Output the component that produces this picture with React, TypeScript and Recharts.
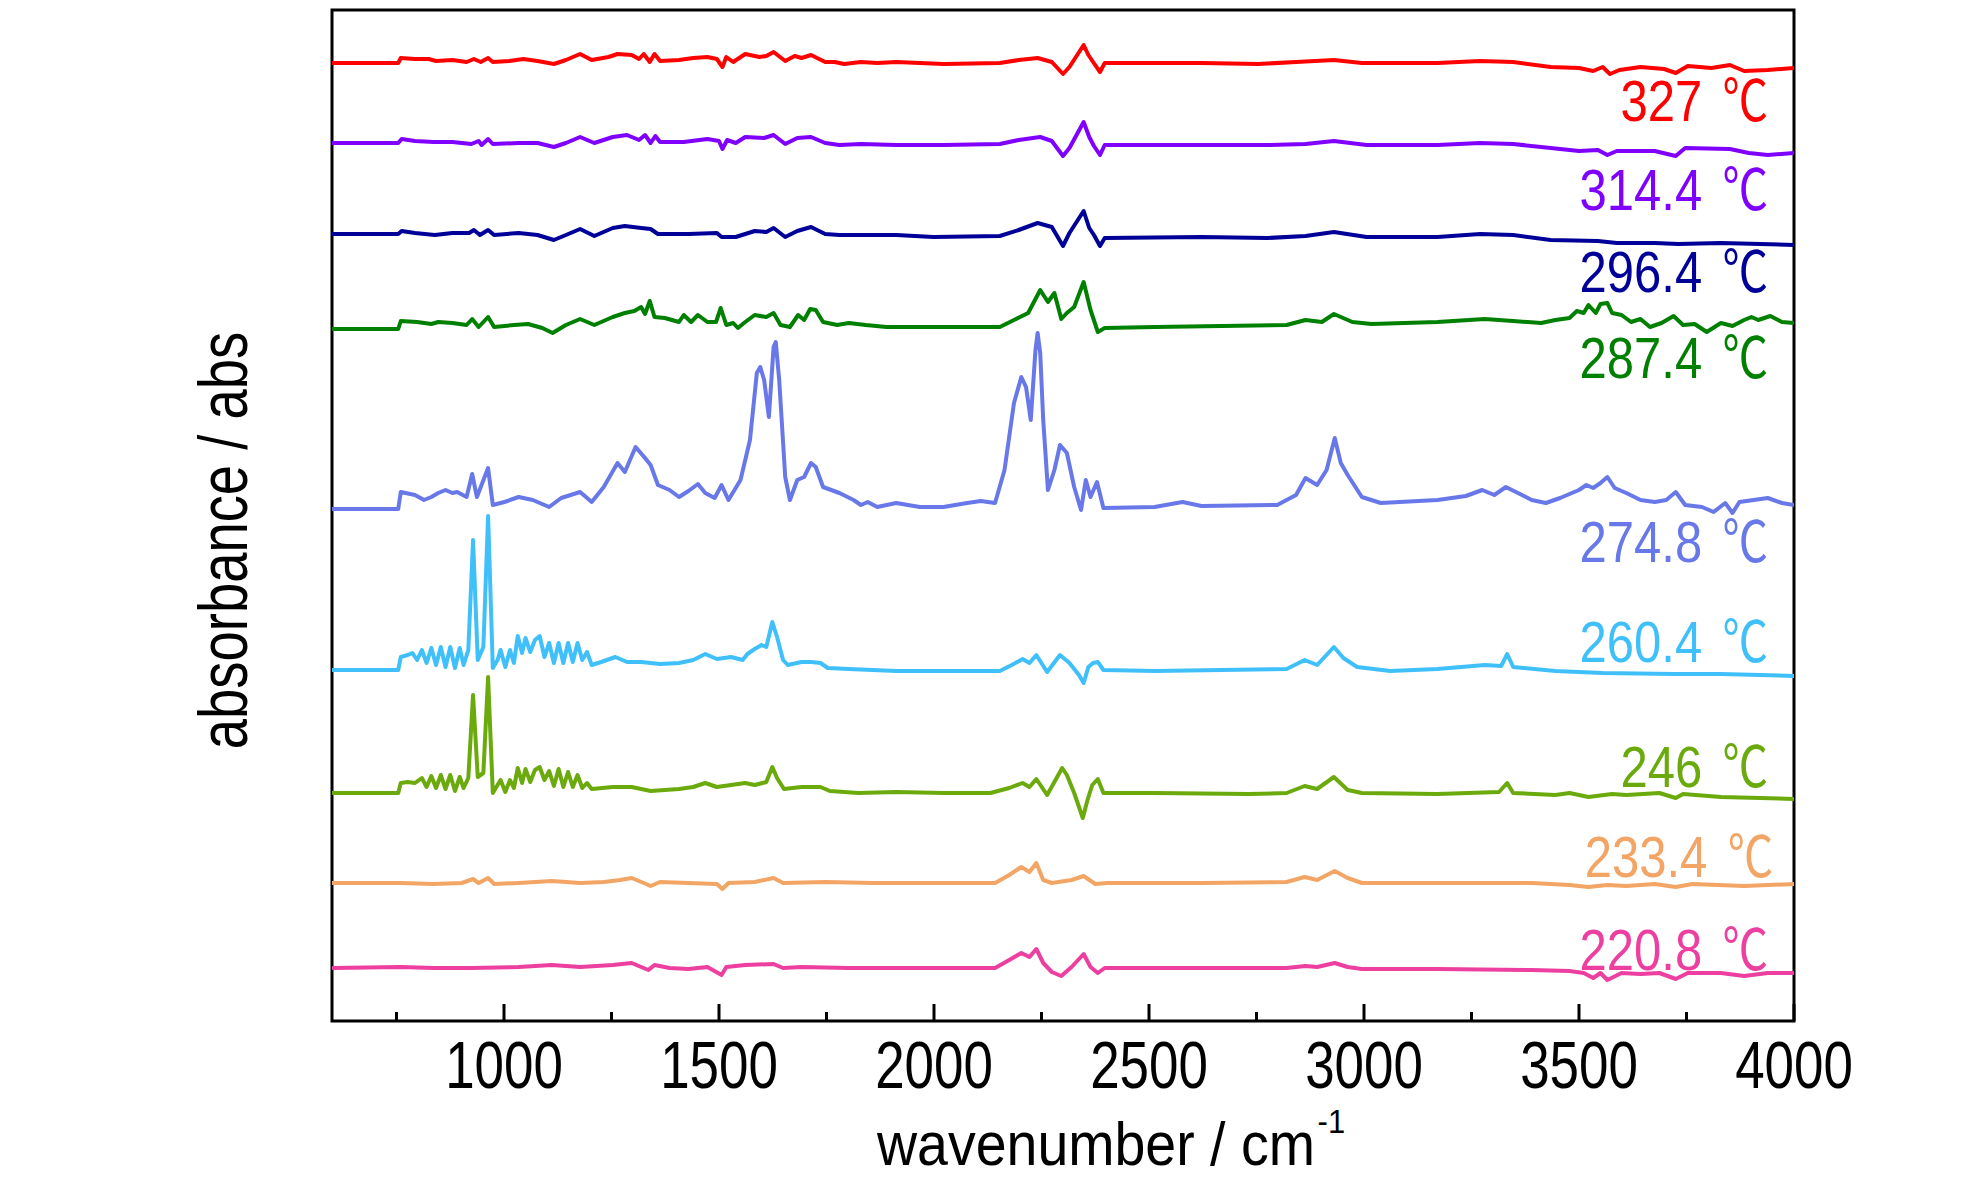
import React from 'react';
import { LineChart, Line, XAxis, YAxis, ReferenceArea, ReferenceDot } from 'recharts';

type Pt = [number, number];

// x axis ticks (cm^-1): minor every 250, labelled every 500
const xTicks = [750, 1000, 1250, 1500, 1750, 2000, 2250, 2500, 2750, 3000, 3250, 3500, 3750, 4000];
const xTickLabels = [1000, 1500, 2000, 2500, 3000, 3500, 4000];

// spectra: [wavenumber, absorbance (offset, arbitrary units)]
const t327: Pt[] = [[600,958],[754,958],[760,963],[793,962],[825,962],[842,960],[880,961],[913,959],[930,962],[946,959],[963,963],[974,959],[1012,960],[1045,962],[1078,960],[1116,957],[1144,961],[1177,967],[1204,961],[1243,964],[1264,967],[1297,966],[1314,962],[1325,967],[1339,959],[1350,967],[1363,960],[1407,961],[1440,963],[1473,964],[1495,962],[1508,954],[1517,964],[1533,959],[1561,967],[1594,964],[1610,965],[1627,969],[1654,960],[1676,965],[1692,963],[1714,966],[1747,959],[1769,959],[1791,957],[1830,959],[1868,958],[1912,959],[2022,957],[2153,958],[2197,961],[2241,963],[2274,959],[2300,947],[2315,954],[2348,976],[2359,966],[2370,959],[2386,949],[2397,958],[2491,958],[2622,958],[2754,957],[2842,959],[2930,961],[2995,958],[3171,958],[3270,960],[3347,959],[3434,954],[3500,953],[3533,950],[3555,954],[3572,947],[3594,951],[3643,954],[3698,952],[3725,948],[3753,955],[3808,953],[3851,956],[3884,950],[3939,951],[4000,953]];

const t314: Pt[] = [[600,878],[754,878],[762,882],[793,880],[836,879],[880,879],[924,877],[941,880],[948,876],[963,882],[974,877],[1034,878],[1078,878],[1116,874],[1144,878],[1177,884],[1210,878],[1253,884],[1286,886],[1314,881],[1328,886],[1341,878],[1352,885],[1363,879],[1418,879],[1473,882],[1500,880],[1508,872],[1519,881],[1539,878],[1561,884],[1605,883],[1627,886],[1654,877],[1682,883],[1714,884],[1747,878],[1780,876],[1830,877],[1912,876],[2022,876],[2153,877],[2197,881],[2247,884],[2274,880],[2300,865],[2315,873],[2348,899],[2361,884],[2372,875],[2386,866],[2397,876],[2513,876],[2776,876],[2864,877],[2930,880],[3006,876],[3171,876],[3270,878],[3347,877],[3434,873],[3500,870],[3544,871],[3566,866],[3588,870],[3676,870],[3725,865],[3747,873],[3851,872],[3895,868],[3939,866],[4000,868]];

const t296: Pt[] = [[600,787],[754,787],[762,790],[793,788],[839,786],[880,788],[919,788],[930,791],[944,786],[963,791],[977,786],[1034,788],[1078,786],[1116,781],[1144,786],[1177,792],[1210,785],[1253,793],[1281,795],[1319,793],[1341,792],[1358,787],[1429,787],[1495,788],[1506,784],[1539,784],[1583,790],[1610,789],[1627,793],[1654,784],[1682,790],[1714,794],[1747,787],[1780,786],[1912,786],[1999,784],[2153,785],[2197,791],[2241,798],[2274,794],[2300,775],[2315,788],[2348,810],[2361,793],[2372,786],[2386,775],[2397,783],[2622,784],[2776,783],[2864,785],[2930,789],[3006,784],[3171,784],[3270,787],[3347,786],[3434,781],[3544,780],[3588,778],[3676,778],[3731,777],[3830,778],[4000,776]];

const t287: Pt[] = [[600,692],[754,692],[760,700],[798,699],[831,697],[847,699],[880,698],[913,696],[926,702],[941,694],[963,704],[977,694],[1023,696],[1056,697],[1089,693],[1113,688],[1144,696],[1177,702],[1210,696],[1253,704],[1281,708],[1303,710],[1319,714],[1328,707],[1339,720],[1350,704],[1374,703],[1407,699],[1418,706],[1435,699],[1451,706],[1473,699],[1493,699],[1504,713],[1517,696],[1533,698],[1544,693],[1561,699],[1583,706],[1610,704],[1627,708],[1643,696],[1665,694],[1684,706],[1698,701],[1712,712],[1725,711],[1742,699],[1775,696],[1802,698],[1841,696],[1890,694],[2022,694],[2153,694],[2186,701],[2219,708],[2247,731],[2265,719],[2280,728],[2296,702],[2309,708],[2326,714],[2348,739],[2364,711],[2381,689],[2397,693],[2513,694],[2820,696],[2864,701],[2902,699],[2930,707],[2973,699],[3017,697],[3171,699],[3281,702],[3347,700],[3412,698],[3445,701],[3478,703],[3495,710],[3511,708],[3522,716],[3539,708],[3550,717],[3566,718],[3577,708],[3599,706],[3621,699],[3643,702],[3665,694],[3692,698],[3720,705],[3742,696],[3769,697],[3797,689],[3830,698],[3857,695],[3884,701],[3901,704],[3917,701],[3945,705],[3972,699],[4000,698]];

const t274: Pt[] = [[600,512],[754,512],[760,529],[793,526],[814,521],[831,524],[847,528],[864,531],[880,528],[891,529],[913,524],[926,547],[937,524],[963,553],[974,516],[1001,519],[1034,524],[1067,521],[1105,514],[1133,523],[1155,526],[1177,529],[1204,519],[1232,534],[1264,558],[1281,549],[1306,574],[1328,563],[1341,556],[1358,536],[1385,531],[1407,524],[1429,530],[1451,537],[1468,528],[1490,523],[1506,536],[1522,521],[1550,541],[1572,581],[1588,648],[1596,654],[1605,641],[1616,604],[1627,674],[1632,679],[1640,641],[1654,544],[1665,521],[1682,541],[1698,544],[1714,558],[1725,554],[1742,534],[1780,528],[1813,521],[1830,516],[1846,519],[1868,514],[1912,518],[1967,514],[2022,514],[2077,518],[2109,520],[2142,518],[2164,551],[2186,618],[2203,644],[2214,634],[2225,601],[2236,671],[2241,688],[2247,668],[2254,601],[2265,531],[2280,551],[2293,576],[2309,568],[2326,534],[2342,511],[2353,541],[2364,524],[2379,539],[2394,513],[2513,514],[2578,519],[2622,515],[2798,516],[2842,526],[2864,543],[2891,536],[2913,551],[2932,583],[2946,558],[2962,546],[2995,524],[3039,518],[3171,521],[3237,525],[3275,531],[3303,526],[3330,534],[3358,528],[3390,521],[3423,518],[3456,523],[3500,531],[3517,536],[3533,533],[3550,538],[3566,544],[3583,533],[3610,528],[3643,521],[3676,519],[3703,521],[3725,529],[3747,516],[3786,514],[3813,509],[3840,518],[3857,508],[3873,519],[3906,521],[3939,523],[3972,518],[4000,516]];

const t260: Pt[] = [[600,351],[754,351],[760,364],[776,366],[787,368],[798,361],[809,371],[820,358],[831,373],[842,356],[853,374],[864,354],[875,374],[886,353],[897,373],[906,356],[917,371],[928,481],[939,361],[952,374],[963,505],[974,353],[985,361],[992,371],[1003,354],[1014,371],[1023,358],[1032,385],[1042,368],[1050,383],[1061,369],[1072,381],[1083,385],[1094,364],[1105,378],[1116,358],[1127,378],[1138,358],[1149,378],[1160,359],[1171,378],[1182,361],[1193,369],[1204,356],[1226,359],[1259,364],[1286,359],[1319,359],[1363,357],[1407,358],[1440,361],[1468,367],[1495,362],[1528,364],[1555,361],[1566,367],[1583,372],[1599,376],[1610,374],[1624,399],[1635,384],[1649,361],[1660,356],[1692,359],[1714,359],[1736,358],[1753,353],[1802,352],[1912,350],[2022,350],[2153,350],[2181,356],[2206,362],[2222,358],[2238,366],[2263,349],[2293,366],[2315,358],[2337,346],[2348,338],[2359,354],[2370,358],[2381,359],[2394,351],[2513,350],[2820,352],[2862,361],[2891,356],[2930,374],[2952,363],[2984,354],[3061,350],[3171,352],[3281,356],[3319,355],[3333,367],[3347,354],[3445,350],[3555,348],[3720,347],[3830,347],[4000,345]];

const t246: Pt[] = [[600,228],[754,228],[760,238],[776,239],[793,238],[809,243],[820,234],[831,245],[842,233],[853,246],[864,232],[875,246],[886,230],[897,244],[906,233],[917,243],[928,326],[939,244],[952,248],[963,344],[974,228],[985,236],[992,241],[1003,229],[1014,241],[1023,233],[1032,253],[1042,238],[1050,252],[1061,239],[1072,251],[1083,254],[1094,241],[1105,250],[1116,235],[1127,252],[1138,234],[1149,249],[1160,234],[1171,246],[1182,233],[1193,238],[1204,232],[1253,234],[1297,234],[1341,230],[1407,232],[1440,234],[1468,238],[1495,234],[1528,236],[1561,238],[1583,236],[1610,239],[1624,254],[1635,243],[1651,232],[1692,234],[1736,234],[1758,230],[1824,228],[1912,229],[2022,228],[2131,228],[2175,233],[2206,238],[2222,234],[2238,242],[2263,226],[2280,239],[2298,253],[2309,246],[2326,228],[2346,203],[2357,221],[2368,236],[2381,242],[2394,228],[2513,228],[2732,227],[2820,228],[2862,235],[2891,232],[2930,244],[2962,231],[2995,228],[3171,227],[3314,229],[3333,238],[3347,228],[3445,226],[3478,228],[3522,224],[3577,227],[3610,226],[3687,228],[3725,223],[3742,227],[3830,224],[4000,222]];

const t233: Pt[] = [[600,138],[760,138],[836,137],[902,138],[928,142],[941,138],[963,143],[977,137],[1034,138],[1111,140],[1177,138],[1232,139],[1270,141],[1297,143],[1325,138],[1341,135],[1363,139],[1429,138],[1495,137],[1508,132],[1522,138],[1583,139],[1627,143],[1649,138],[1747,139],[1857,138],[2022,138],[2142,138],[2175,146],[2203,154],[2222,149],[2238,158],[2254,141],[2274,138],[2320,141],[2348,145],[2375,137],[2403,138],[2622,138],[2820,139],[2862,144],[2891,141],[2932,150],[2962,143],[2995,138],[3171,138],[3390,138],[3478,136],[3522,134],[3566,136],[3610,135],[3676,137],[3725,134],[3764,137],[3884,135],[4000,137]];

const t220: Pt[] = [[600,53],[760,54],[836,53],[924,53],[1034,54],[1111,56],[1177,54],[1253,56],[1297,58],[1319,54],[1336,51],[1350,56],[1385,53],[1429,52],[1473,54],[1506,46],[1517,54],[1561,56],[1627,57],[1649,53],[1692,54],[1802,53],[2022,53],[2142,53],[2175,61],[2203,68],[2222,64],[2238,72],[2254,58],[2274,49],[2296,45],[2320,54],[2348,67],[2364,54],[2381,48],[2397,53],[2622,53],[2820,53],[2864,55],[2891,54],[2932,58],[2962,54],[2995,52],[3171,52],[3390,51],[3478,50],[3511,48],[3533,43],[3550,48],[3566,41],[3599,48],[3643,47],[3687,48],[3725,42],[3753,48],[3830,48],[3884,45],[3939,48],[4000,48]];

const temperatures = ['327', '314.4', '296.4', '287.4', '274.8', '260.4', '246', '233.4', '220.8'];
const spectra = [t327, t314, t296, t287, t274, t260, t246, t233, t220];
const colors = ['#FF0000', '#8000FF', '#000099', '#008000', '#6878E8', '#40C0FA', '#6BAA0C', '#F2A564', '#EC3FA0'];
// label anchor (right end) per spectrum, in data coords
const labelW = [3940, 3940, 3940, 3940, 3940, 3940, 3940, 3952, 3940];
const labelV = [900, 811, 729, 643, 459, 359, 234, 144, 51];

const Y_MAX = 1011;
const FONT = "'Liberation Sans', Arial, sans-serif";
const CJK = "'Noto Sans CJK SC', 'Noto Sans CJK JP', sans-serif";

const series = spectra.map((pts, i) => ({
  id: temperatures[i],
  color: colors[i],
  rows: pts.map(([w, v]) => ({ w, v })),
}));

const XTick = (props: any) => {
  const { x, y, payload } = props;
  const major = xTickLabels.includes(payload.value);
  return (
    <g>
      <line x1={x} y1={y} x2={x} y2={y - (major ? 17 : 9)} stroke="#000" strokeWidth={3} />
      {major && (
        <text
          transform={`translate(${x},${y + 67}) scale(0.79,1)`}
          textAnchor="middle"
          fontFamily={FONT}
          fontSize={67}
          fill="#000"
        >
          {payload.value}
        </text>
      )}
    </g>
  );
};

// Axis titles (both drawn from the x-axis label slot, positioned from its viewBox)
const AxisTitles = (props: any) => {
  const vb = props.viewBox || { x: 332, y: 1021, width: 1462 };
  const x0 = vb.x + 545;
  const y0 = vb.y + 144;
  const plotH = 1011;
  const ycx = vb.x - 85;
  const ycy = vb.y - plotH / 2 + 25;
  return (
    <g>
      <text transform={`translate(${x0},${y0}) scale(0.91,1)`} fontFamily={FONT} fontSize={61} fill="#000">
        <tspan>wavenumber / cm</tspan>
        <tspan dx={3} dy={-32} fontSize={34}>-1</tspan>
      </text>
      <text
        transform={`translate(${ycx},${ycy}) rotate(-90) scale(0.8,1)`}
        textAnchor="middle"
        fontFamily={FONT}
        fontSize={68}
        fill="#000"
      >
        absorbance / abs
      </text>
    </g>
  );
};

const makeLabelShape = (text: string, color: string) => (p: any) => (
  <g>
    <text
      transform={`translate(${p.cx - 66},${p.cy}) scale(0.86,1)`}
      textAnchor="end"
      fontFamily={FONT}
      fontSize={57}
      fill={color}
    >
      {text}
    </text>
    <text
      transform={`translate(${p.cx},${p.cy}) scale(0.8,1)`}
      textAnchor="end"
      fontFamily={CJK}
      fontSize={57}
      fill={color}
    >
      ℃
    </text>
  </g>
);

export default function App() {
  return (
    <div style={{ position: 'absolute', left: 0, top: 0, width: 1984, height: 1181, background: '#fff' }}>
      <LineChart width={1984} height={1181} margin={{ top: 10, right: 190, bottom: 100, left: 332 }}>
        <XAxis
          xAxisId={0}
          dataKey="w"
          type="number"
          domain={[600, 4000]}
          allowDataOverflow
          ticks={xTicks}
          interval={0}
          tickSize={0}
          tickMargin={0}
          tickLine={false}
          axisLine={false}
          tick={<XTick />}
          height={60}
          label={{ content: <AxisTitles /> }}
        />
        <YAxis
          yAxisId={0}
          type="number"
          domain={[0, Y_MAX]}
          allowDataOverflow
          width={0}
          tick={false}
          tickLine={false}
          axisLine={false}
        />
        {series.map((s) => (
          <Line
            key={s.id}
            data={s.rows}
            dataKey="v"
            type="linear"
            stroke={s.color}
            strokeWidth={4}
            strokeLinejoin="round"
            dot={false}
            activeDot={false}
            isAnimationActive={false}
          />
        ))}
        <ReferenceArea
          x1={600}
          x2={4000}
          y1={0}
          y2={Y_MAX}
          fill="none"
          fillOpacity={0}
          stroke="#000"
          strokeWidth={3}
          strokeOpacity={1}
          ifOverflow="visible"
        />
        {series.map((s, i) => (
          <ReferenceDot
            key={'lab' + s.id}
            x={labelW[i]}
            y={labelV[i]}
            r={0}
            ifOverflow="visible"
            shape={makeLabelShape(s.id, s.color)}
          />
        ))}
      </LineChart>
    </div>
  );
}
